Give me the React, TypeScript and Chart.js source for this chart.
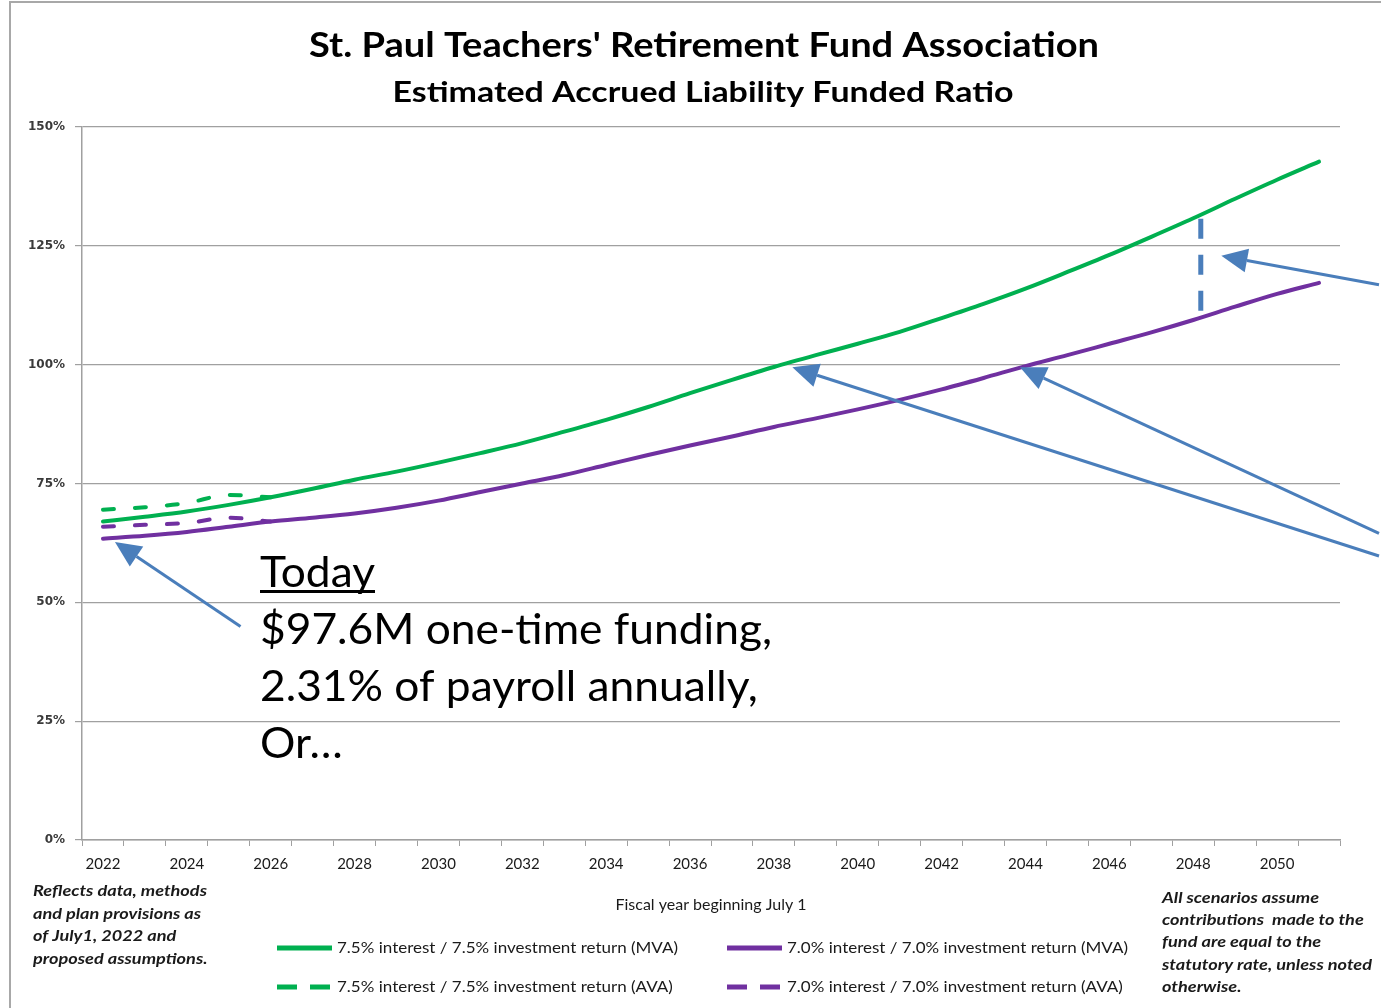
import { useEffect, useRef } from 'react';
import { Chart, registerables } from 'chart.js';

Chart.register(...registerables);

// ---------- data ----------
const years = [
  '2022', '2023', '2024', '2025', '2026', '2027', '2028', '2029', '2030', '2031',
  '2032', '2033', '2034', '2035', '2036', '2037', '2038', '2039', '2040', '2041',
  '2042', '2043', '2044', '2045', '2046', '2047', '2048', '2049', '2050', '2051',
];

const green75Mva = [
  67.0, 68.0, 69.1, 70.5, 72.1, 73.9, 75.8, 77.5, 79.4, 81.4,
  83.5, 85.9, 88.4, 91.1, 94.0, 96.8, 99.5, 102.0, 104.4, 106.9,
  109.8, 112.8, 116.0, 119.5, 123.1, 126.9, 130.8, 134.9, 138.9, 142.7,
];
const green75Ava = [
  69.5, 70.0, 70.9, 72.6, 72.1, null, null, null, null, null,
  null, null, null, null, null, null, null, null, null, null,
  null, null, null, null, null, null, null, null, null, null,
];
const purple70Mva = [
  63.4, 64.0, 64.8, 65.9, 67.0, 67.8, 68.7, 69.9, 71.4, 73.2,
  75.0, 76.8, 78.9, 81.0, 83.0, 84.9, 86.9, 88.7, 90.6, 92.6,
  94.8, 97.2, 99.7, 102.0, 104.4, 106.8, 109.4, 112.2, 114.9, 117.2,
];
const purple70Ava = [
  65.9, 66.3, 66.7, 67.8, 67.0, null, null, null, null, null,
  null, null, null, null, null, null, null, null, null, null,
  null, null, null, null, null, null, null, null, null, null,
];

const seriesLabels = [
  '7.5% interest / 7.5% investment return (MVA)',
  '7.0% interest / 7.0% investment return (MVA)',
  '7.5% interest / 7.5% investment return (AVA)',
  '7.0% interest / 7.0% investment return (AVA)',
];

const yTicks = [0, 25, 50, 75, 100, 125, 150];

const titleText = "St. Paul Teachers' Retirement Fund Association";
const subtitleText = 'Estimated Accrued Liability Funded Ratio';
const xAxisTitle = 'Fiscal year beginning July 1';
const calloutHead = 'Today';
const calloutLines = ['$97.6M one-time funding,', '2.31% of payroll annually,', 'Or\u2026'];
const leftNote = ['Reflects data, methods', 'and plan provisions as', 'of July1, 2022 and', 'proposed assumptions.'];
const rightNote = ['All scenarios assume', 'contributions  made to the', 'fund are equal to the', 'statutory rate, unless noted', 'otherwise.'];

// arrows: [fromIndex, fromValue] -> [toIndex, toValue] (category index, percent)
const arrowsFrom = [[3.28, 44.9], [30.43, 59.75], [30.43, 64.5], [30.43, 116.8]];
const arrowsTo = [[0.286, 62.7], [16.44, 99.45], [21.87, 99.45], [26.67, 122.9]];
const gapIndex = 26.18;

// ---------- styles ----------
const GREEN = '#00B050';
const PURPLE = '#7030A0';
const BLUE = '#4A7EBB';
const GRID = '#a0a0a0';
const TEXT = '#1a1a1a';
const CAL = 'Lato, "Open Sans", sans-serif';

function fitScale(ctx: CanvasRenderingContext2D, text: string, width: number) {
  return width / ctx.measureText(text).width;
}
function drawScaled(ctx: CanvasRenderingContext2D, text: string, x: number, y: number, s: number) {
  ctx.save();
  ctx.translate(x, y);
  ctx.scale(s, 1);
  ctx.fillText(text, 0, 0);
  ctx.restore();
}

const overlayPlugin = {
  id: 'overlay',
  beforeDraw(chart: any) {
    const ctx = chart.ctx as CanvasRenderingContext2D;
    ctx.save();
    ctx.fillStyle = '#ffffff';
    ctx.fillRect(0, 0, chart.width, chart.height);
    ctx.strokeStyle = '#a8a8a8';
    ctx.lineWidth = 2;
    ctx.beginPath();
    ctx.moveTo(10, chart.height + 5);
    ctx.lineTo(10, 2);
    ctx.lineTo(chart.width + 5, 2);
    ctx.stroke();
    ctx.restore();
  },
  afterDatasetsDraw(chart: any) {
    const ctx = chart.ctx as CanvasRenderingContext2D;
    const xs = chart.scales.x;
    const ys = chart.scales.y;
    const x0 = xs.getPixelForValue(0);
    const step = xs.getPixelForValue(1) - x0;
    const px = (i: number) => x0 + i * step;
    const py = (v: number) => ys.getPixelForValue(v);

    ctx.save();
    // dashed gap line between the two MVA curves
    const fi = Math.floor(gapIndex);
    const fr = gapIndex - fi;
    const gVal = green75Mva[fi] + fr * (green75Mva[fi + 1] - green75Mva[fi]);
    const pVal = purple70Mva[fi] + fr * (purple70Mva[fi + 1] - purple70Mva[fi]);
    ctx.strokeStyle = BLUE;
    ctx.lineWidth = 5;
    ctx.setLineDash([20, 16]);
    ctx.beginPath();
    ctx.moveTo(px(gapIndex), py(gVal) + 4);
    ctx.lineTo(px(gapIndex), py(pVal) - 4);
    ctx.stroke();
    ctx.setLineDash([]);

    // arrows
    ctx.fillStyle = BLUE;
    ctx.lineWidth = 3;
    for (let k = 0; k < arrowsFrom.length; k++) {
      const x1 = px(arrowsFrom[k][0]);
      const y1 = py(arrowsFrom[k][1]);
      const x2 = px(arrowsTo[k][0]);
      const y2 = py(arrowsTo[k][1]);
      const a = Math.atan2(y2 - y1, x2 - x1);
      const L = 26;
      const Wd = 12;
      const bx = x2 - L * Math.cos(a);
      const by = y2 - L * Math.sin(a);
      ctx.beginPath();
      ctx.moveTo(x1, y1);
      ctx.lineTo(bx, by);
      ctx.stroke();
      ctx.beginPath();
      ctx.moveTo(x2, y2);
      ctx.lineTo(bx + Wd * Math.sin(a), by - Wd * Math.cos(a));
      ctx.lineTo(bx - Wd * Math.sin(a), by + Wd * Math.cos(a));
      ctx.closePath();
      ctx.fill();
    }
    ctx.restore();
  },
  afterDraw(chart: any) {
    const ctx = chart.ctx as CanvasRenderingContext2D;
    ctx.save();
    ctx.fillStyle = '#000';
    ctx.textBaseline = 'alphabetic';
    ctx.textAlign = 'center';

    // titles
    ctx.font = `bold 35px ${CAL}`;
    drawScaled(ctx, titleText, 704, 57, fitScale(ctx, titleText, 790));
    ctx.font = `bold 28px ${CAL}`;
    drawScaled(ctx, subtitleText, 703, 102, fitScale(ctx, subtitleText, 621));

    // callout text
    ctx.textAlign = 'left';
    ctx.font = `42px ${CAL}`;
    const cs = fitScale(ctx, calloutLines[0], 512);
    drawScaled(ctx, calloutHead, 260, 587, cs);
    const headW = ctx.measureText(calloutHead).width * cs;
    ctx.fillRect(260, 590, headW, 3);
    calloutLines.forEach((t, i) => drawScaled(ctx, t, 260, 644 + i * 57, cs));

    // notes
    ctx.textBaseline = 'middle';
    ctx.fillStyle = TEXT;
    ctx.font = `italic bold 15px ${CAL}`;
    const ls = fitScale(ctx, leftNote[0], 174);
    leftNote.forEach((t, i) => drawScaled(ctx, t, 33, 891 + i * 22.7, ls));
    const rs = fitScale(ctx, rightNote[3], 210);
    rightNote.forEach((t, i) => drawScaled(ctx, t, 1162, 898 + i * 22.3, rs));

    // legend
    const ds = chart.data.datasets;
    ctx.font = `15px ${CAL}`;
    const gs = fitScale(ctx, seriesLabels[0], 341);
    const slots = [[277, 948], [727, 948], [277, 987], [727, 987]];
    ds.forEach((d: any, i: number) => {
      const [lx, ly] = slots[i];
      ctx.strokeStyle = d.borderColor;
      ctx.lineWidth = 5;
      ctx.lineCap = 'butt';
      ctx.setLineDash(d.borderDash && d.borderDash.length ? [20, 13] : []);
      ctx.beginPath();
      ctx.moveTo(lx, ly);
      ctx.lineTo(lx + 55, ly);
      ctx.stroke();
      ctx.setLineDash([]);
      ctx.fillStyle = TEXT;
      drawScaled(ctx, d.label, lx + 60, ly, gs);
    });
    ctx.restore();
  },
};

export default function App() {
  const ref = useRef<HTMLCanvasElement | null>(null);

  useEffect(() => {
    if (!ref.current) return;
    const common = {
      borderWidth: 4, pointRadius: 0, cubicInterpolationMode: 'monotone', borderCapStyle: 'round', fill: false,
    };
    const chart = new Chart(ref.current, {
      type: 'line',
      data: {
        labels: years,
        datasets: [
          { ...common, label: seriesLabels[0], data: green75Mva, borderColor: GREEN, backgroundColor: GREEN },
          { ...common, label: seriesLabels[1], data: purple70Mva, borderColor: PURPLE, backgroundColor: PURPLE },
          {
            ...common, label: seriesLabels[2], data: green75Ava, borderColor: GREEN, backgroundColor: GREEN,
            borderDash: [11, 21], spanGaps: false,
          },
          {
            ...common, label: seriesLabels[3], data: purple70Ava, borderColor: PURPLE, backgroundColor: PURPLE,
            borderDash: [11, 21], spanGaps: false,
          },
        ] as any,
      },
      options: {
        responsive: false,
        animation: false,
        events: [],
        layout: { padding: { left: 10, right: 41, top: 127, bottom: 88 } },
        plugins: {
          legend: { display: false },
          title: { display: false },
          tooltip: { enabled: false },
        },
        scales: {
          x: {
            type: 'category',
            offset: true,
            grid: { offset: true, drawOnChartArea: false, tickLength: 6, color: GRID, lineWidth: 1 },
            border: { color: GRID, width: 1.5 },
            ticks: {
              autoSkip: false,
              maxRotation: 0,
              padding: 9,
              color: TEXT,
              font: { family: CAL, size: 15 },
              callback: (_v: any, i: number) => (i % 2 === 0 ? years[i] : ''),
            },
            title: {
              display: true,
              text: xAxisTitle,
              color: TEXT,
              font: { family: CAL, size: 16 },
              padding: { top: 4, bottom: 6 },
            },
            afterFit: (s: any) => { s.height = 80; },
          },
          y: {
            min: 0,
            max: 150,
            afterBuildTicks: (s: any) => { s.ticks = yTicks.map((v) => ({ value: v })); },
            grid: { color: GRID, tickLength: 7, lineWidth: 1.2 },
            border: { color: GRID, width: 1.5 },
            ticks: {
              padding: 10,
              color: '#3a3a3a',
              font: { family: '"DejaVu Sans", Verdana, sans-serif', size: 12, weight: 'bold' },
              callback: (v: any) => `${v}%`,
            },
            afterFit: (s: any) => { s.width = 72; },
          },
        },
      },
      plugins: [overlayPlugin],
    });
    return () => chart.destroy();
  }, []);

  return (
    <div style={{ position: 'fixed', left: 0, top: 0, width: 1381, height: 1008, background: '#fff' }}>
      <canvas ref={ref} width={1381} height={1008} style={{ display: 'block' }} />
    </div>
  );
}
